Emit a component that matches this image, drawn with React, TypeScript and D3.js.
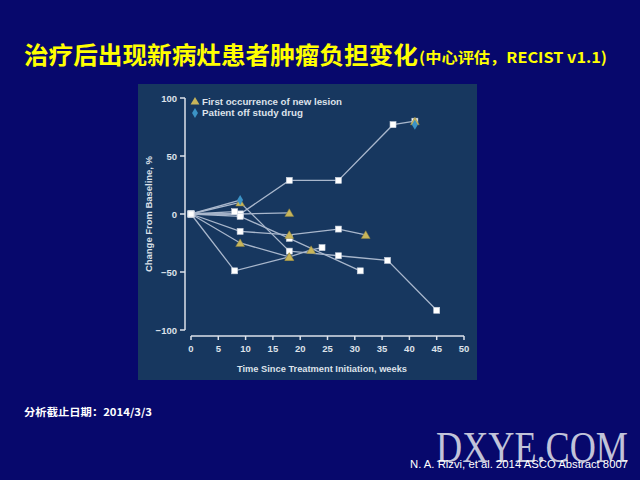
import React from "react";
import * as d3 from "d3";

// ---- data (week, % change from baseline) ----
const s1Weeks = [0, 9, 18, 27, 37, 41];
const s1Change = [0, 0, 29, 29, 77, 80];
const s1Marks = ["s", "s", "s", "s", "s", "st"];

const s2Weeks = [0, 9];
const s2Change = [0, 12];
const s2Marks = ["s", "d"];

const s3Weeks = [0, 9, 18, 27, 36, 45];
const s3Change = [0, 10, -32, -36, -40, -83];
const s3Marks = ["s", "t", "s", "s", "s", "s"];

const s4Weeks = [0, 8, 18];
const s4Change = [0, -49, -37];
const s4Marks = ["s", "s", "t"];

const s5Weeks = [0, 9, 18, 22, 24];
const s5Change = [0, -25, -37, -31, -29];
const s5Marks = ["s", "t", "t", "t", "s"];

const s6Weeks = [0, 9, 18, 27, 32];
const s6Change = [0, -15, -18, -13, -18];
const s6Marks = ["s", "s", "t", "s", "t"];

const s7Weeks = [0, 9, 18];
const s7Change = [0, 0, 1];
const s7Marks = ["s", "s", "t"];

const s8Weeks = [0, 9, 18, 31];
const s8Change = [0, -2, -21, -49];
const s8Marks = ["s", "s", "s", "s"];

const s9Weeks = [0, 8];
const s9Change = [0, 2];
const s9Marks = ["s", "s"];

const offDrugWeeks = [41];
const offDrugChange = [77];

const xTicks = [0, 5, 10, 15, 20, 25, 30, 35, 40, 45, 50];
const yTicks = [-100, -50, 0, 50, 100];

const titleMain = "治疗后出现新病灶患者肿瘤负担变化";
const titleSub = "(中心评估，RECIST  v1.1)";
const legendLabels = ["First occurrence of new lesion", "Patient off study drug"];
const xLabel = "Time Since Treatment Initiation, weeks";
const yLabel = "Change From Baseline, %";
const cutoffNote = "分析截止日期：2014/3/3";
const citation = "N. A. Rizvi, et al. 2014 ASCO Abstract  8007";

const seriesList = [
  { w: s1Weeks, c: s1Change, m: s1Marks },
  { w: s2Weeks, c: s2Change, m: s2Marks },
  { w: s3Weeks, c: s3Change, m: s3Marks },
  { w: s4Weeks, c: s4Change, m: s4Marks },
  { w: s5Weeks, c: s5Change, m: s5Marks },
  { w: s6Weeks, c: s6Change, m: s6Marks },
  { w: s7Weeks, c: s7Change, m: s7Marks },
  { w: s8Weeks, c: s8Change, m: s8Marks },
  { w: s9Weeks, c: s9Change, m: s9Marks },
];

const BG = "#07086c";
const PANEL = "#17375f";
const LINE = "#a9b7cc";
const AXIS = "#dde2ea";
const TRI = "#c8b55a";
const DIA = "#3b93c6";
const SANS = "'Liberation Sans', Arial, sans-serif";
const CJK = "'Noto Sans CJK SC', sans-serif";

export default function App() {
  const x = d3.scaleLinear().domain([0, 50]).range([191, 464]);
  const y = d3.scaleLinear().domain([-100, 100]).range([330, 98]);
  const line = d3
    .line<[number, number]>()
    .x((d) => x(d[0]))
    .y((d) => y(d[1]));

  const tri = d3.symbol().type(d3.symbolTriangle).size(34);
  const dia = d3.symbol().type(d3.symbolDiamond).size(30);

  const axisY0 = 185;
  const axisX0 = 336;

  return (
    <svg
      width={640}
      height={480}
      style={{ position: "fixed", left: 0, top: 0, display: "block" }}
    >
      <rect x={0} y={0} width={640} height={480} fill={BG} />
      {/* title */}
      <text
        x={24}
        y={64}
        fill="#ffff00"
        fontFamily={CJK}
        fontWeight="bold"
        fontSize={24}
        textLength={394}
        lengthAdjust="spacingAndGlyphs"
      >
        {titleMain}
      </text>
      <text
        x={419}
        y={63}
        fill="#ffff00"
        fontFamily={CJK}
        fontWeight="bold"
        fontSize={15}
        textLength={188}
        lengthAdjust="spacingAndGlyphs"
      >
        {titleSub}
      </text>

      {/* panel */}
      <rect x={138} y={84} width={339} height={296} fill={PANEL} />

      {/* axes */}
      <line x1={axisY0} x2={axisY0} y1={y(100)} y2={y(-100)} stroke={AXIS} strokeWidth={1.5} />
      {yTicks.map((t) => (
        <g key={"yt" + t}>
          <line x1={axisY0 - 5} x2={axisY0} y1={y(t)} y2={y(t)} stroke={AXIS} strokeWidth={1.5} />
          <text
            x={axisY0 - 8}
            y={y(t) + 3.5}
            textAnchor="end"
            fill={AXIS}
            fontFamily={SANS}
            fontWeight="bold"
            fontSize={9.5}
          >
            {t < 0 ? "\u2212" + Math.abs(t) : t}
          </text>
        </g>
      ))}
      <line x1={x(0)} x2={x(50)} y1={axisX0} y2={axisX0} stroke={AXIS} strokeWidth={1.5} />
      {xTicks.map((t) => (
        <g key={"xt" + t}>
          <line x1={x(t)} x2={x(t)} y1={axisX0} y2={axisX0 + 4} stroke={AXIS} strokeWidth={1.5} />
          <text
            x={x(t)}
            y={axisX0 + 16}
            textAnchor="middle"
            fill={AXIS}
            fontFamily={SANS}
            fontWeight="bold"
            fontSize={9.5}
          >
            {t}
          </text>
        </g>
      ))}
      <text
        x={322}
        y={372}
        textAnchor="middle"
        fill={AXIS}
        fontFamily={SANS}
        fontWeight="bold"
        fontSize={9}
        textLength={170}
        lengthAdjust="spacingAndGlyphs"
      >
        {xLabel}
      </text>
      <text
        transform="translate(152,214) rotate(-90)"
        textAnchor="middle"
        fill={AXIS}
        fontFamily={SANS}
        fontWeight="bold"
        fontSize={9}
        textLength={116}
        lengthAdjust="spacingAndGlyphs"
      >
        {yLabel}
      </text>

      {/* lines */}
      {seriesList.map((s, i) => (
        <path
          key={"l" + i}
          d={line(s.w.map((w, j) => [w, s.c[j]] as [number, number])) || ""}
          fill="none"
          stroke={LINE}
          strokeWidth={1.3}
        />
      ))}

      {/* squares */}
      {seriesList.map((s, i) =>
        s.w.map((w, j) =>
          s.m[j].includes("s") ? (
            <rect
              key={"s" + i + "-" + j}
              x={x(w) - 3}
              y={y(s.c[j]) - 3}
              width={6}
              height={6}
              fill="#ffffff"
              stroke="#c8d0dc"
              strokeWidth={0.6}
            />
          ) : null
        )
      )}
      {/* triangles */}
      {seriesList.map((s, i) =>
        s.w.map((w, j) =>
          s.m[j].includes("t") ? (
            <path
              key={"t" + i + "-" + j}
              d={tri() || ""}
              transform={`translate(${x(w)},${y(s.c[j]) + 1})`}
              fill={TRI}
              stroke="#8f8240"
              strokeWidth={0.5}
            />
          ) : null
        )
      )}
      {/* diamonds */}
      {seriesList.map((s, i) =>
        s.w.map((w, j) =>
          s.m[j].includes("d") ? (
            <path
              key={"d" + i + "-" + j}
              d={dia() || ""}
              transform={`translate(${x(w)},${y(s.c[j])})`}
              fill={DIA}
            />
          ) : null
        )
      )}
      {offDrugWeeks.map((w, j) => (
        <path
          key={"od" + j}
          d={dia() || ""}
          transform={`translate(${x(w)},${y(offDrugChange[j])})`}
          fill={DIA}
        />
      ))}

      {/* legend */}
      <path d={tri() || ""} transform="translate(195,102)" fill={TRI} />
      <text x={202} y={104.5} fill={AXIS} fontFamily={SANS} fontWeight="bold" fontSize={9}
        textLength={140} lengthAdjust="spacingAndGlyphs">
        {legendLabels[0]}
      </text>
      <path d={dia() || ""} transform="translate(195,113)" fill={DIA} />
      <text x={202} y={116} fill={AXIS} fontFamily={SANS} fontWeight="bold" fontSize={9}
        textLength={101} lengthAdjust="spacingAndGlyphs">
        {legendLabels[1]}
      </text>

      {/* footer */}
      <text x={24} y={416} fill="#ffffff" fontFamily={CJK} fontWeight="bold" fontSize={10.5}
        textLength={128} lengthAdjust="spacingAndGlyphs">
        {cutoffNote}
      </text>
      <text x={436} y={462} fill="#e4e6ee" fillOpacity={0.85} fontFamily="'Liberation Serif', serif"
        fontSize={44} textLength={192} lengthAdjust="spacingAndGlyphs">
        DXYE.COM
      </text>
      <text x={410} y={468} fill="#ffffff" fontFamily={SANS} fontSize={10}
        textLength={218} lengthAdjust="spacingAndGlyphs">
        {citation}
      </text>
    </svg>
  );
}
